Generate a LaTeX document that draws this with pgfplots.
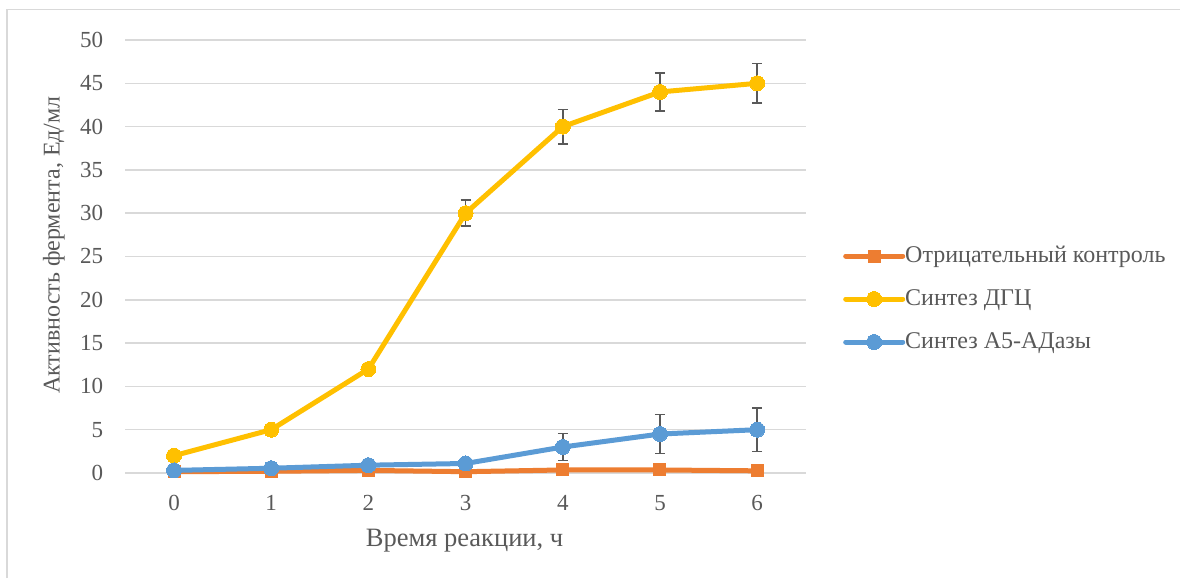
\documentclass[border=0pt]{standalone}
\usepackage{fontspec}
\setmainfont{Liberation Serif}
\usepackage{pgfplots}
\pgfplotsset{compat=1.18}
\usepackage{pgfplotstable}
\definecolor{cOr}{HTML}{ED7D31}
\definecolor{cYe}{HTML}{FFC000}
\definecolor{cBl}{HTML}{5B9BD5}
\definecolor{cTx}{HTML}{595959}
\definecolor{cGr}{HTML}{D9D9D9}

\pgfplotstableread{
x y e
0 0.15 0
1 0.20 0
2 0.30 0
3 0.15 0
4 0.35 0
5 0.35 0
6 0.25 0
}\ctrl
\pgfplotstableread{
x y e
0 2 0
1 5 0
2 12 0
3 30 1.5
4 40 2.0
5 44 2.2
6 45 2.3
}\dgc
\pgfplotstableread{
x y e
0 0.30 0
1 0.55 0
2 0.90 0
3 1.10 0
4 3.00 1.55
5 4.50 2.25
6 5.00 2.5
}\adase

\begin{document}
\begin{tikzpicture}
\useasboundingbox (0,0) rectangle (1180pt,578pt);
\fill[white] (0,0) rectangle (1180pt,578pt);
\draw[cGr, line width=1.5pt] (7pt,0) -- (7pt,568.5pt) -- (1180pt,568.5pt);
\begin{axis}[
  at={(125.4pt,105pt)}, anchor=south west,
  scale only axis, width=680.4pt, height=433pt,
  xmin=-0.5, xmax=6.5, ymin=0, ymax=50,
  xtick={0,...,6}, ytick={0,5,...,50},
  axis line style={draw=none},
  major tick length=0pt,
  ymajorgrids, grid style={cGr, line width=1.5pt},
  /pgf/number format/assume math mode=true,
  tick label style={font=\fontsize{23}{27}\selectfont, text=cTx},
  yticklabel style={anchor=east, inner sep=0pt, xshift=-22pt},
  xticklabel style={anchor=north, inner sep=0pt, yshift=-22pt},
  xlabel={Время реакции, ч},
  ylabel={Активность фермента, Ед/мл},
  every axis x label/.style={at={(axis description cs:0.4984,-0.1686)}, anchor=base,
    font=\fontsize{26.5}{30}\selectfont, text=cTx},
  every axis y label/.style={at={(axis description cs:-0.105,0.5266)}, rotate=90, anchor=center,
    font=\fontsize{24}{28}\selectfont, text=cTx},
  clip=false,
  legend style={at={(1.0547,0.4018)}, anchor=west, draw=none, fill=none, inner sep=0pt,
    font=\fontsize{24}{28}\selectfont, text=cTx, row sep=21pt, column sep=0pt,
    nodes={inner sep=0pt, text height=17pt, text depth=5pt}},
  legend cell align=left,
  legend image code/.code={\draw[mark repeat=2, mark phase=2, #1] plot coordinates {(0pt,0pt) (28.5pt,0pt) (57pt,0pt)};},
  every axis plot/.append style={line width=5pt, line join=round, line cap=round},
]
\addplot[cOr, mark=square*, mark size=6pt, mark options={solid, fill=cOr, draw=cOr, line width=0pt}]
  table[x=x, y=y]{\ctrl};
\addlegendentry{Отрицательный контроль}
\addplot[cYe, mark=*, mark size=7.5pt, mark options={solid, fill=cYe, draw=cYe, line width=0pt},
  error bars/.cd, y dir=both, y explicit,
  error bar style={line width=1.5pt, cTx, line cap=butt},
  error mark options={rotate=90, mark size=5pt, line width=1.5pt, cTx}]
  table[x=x, y=y, y error=e]{\dgc};
\addlegendentry{Синтез ДГЦ}
\addplot[cBl, mark=*, mark size=7.5pt, mark options={solid, fill=cBl, draw=cBl, line width=0pt},
  error bars/.cd, y dir=both, y explicit,
  error bar style={line width=1.5pt, cTx, line cap=butt},
  error mark options={rotate=90, mark size=5pt, line width=1.5pt, cTx}]
  table[x=x, y=y, y error=e]{\adase};
\addlegendentry{Синтез А5-АДазы}
\end{axis}
\end{tikzpicture}
\end{document}
